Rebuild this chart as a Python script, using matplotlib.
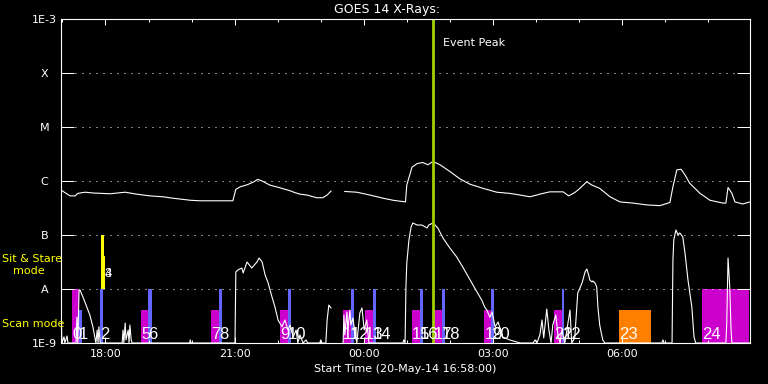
import matplotlib
matplotlib.use("Agg")
import matplotlib.pyplot as plt
from matplotlib.ticker import FixedLocator, NullLocator
import numpy as np

# ---------------- data (time in hours since 20-May-14 16:58:00) ----------------
start_clock = "16:58"

long_t = [0.00, 0.21, 0.33, 0.39, 0.56, 0.74, 1.14, 1.49, 1.76, 2.07, 2.37, 2.60,
          3.00, 3.23, 3.53, 3.99, 4.06, 4.16, 4.32, 4.46, 4.57, 4.67, 4.85, 5.08,
          5.32, 5.43, 5.55, 5.71, 5.94, 6.08, 6.18, 6.27, 6.45, 6.59, 6.87, 7.17,
          7.48, 7.71, 8.00, 8.03, 8.15, 8.27, 8.40, 8.52, 8.64, 8.80, 9.03, 9.26,
          9.50, 9.80, 10.12, 10.42, 10.66, 10.89, 11.12, 11.35, 11.66, 11.79, 11.93,
          12.05, 12.21, 12.33, 12.51, 12.75, 12.98, 13.28, 13.61, 13.91, 14.14,
          14.21, 14.30, 14.40, 14.49, 14.60, 14.84, 15.07, 15.37, 15.44, 15.49,
          15.58, 15.65, 15.83, 15.95, 16.00]
long_flux = [6.8e-7, 5.3e-7, 5.3e-7, 5.9e-7, 6.2e-7, 6.0e-7, 5.8e-7, 6.2e-7, 5.7e-7,
             5.3e-7, 5.1e-7, 4.8e-7, 4.4e-7, 4.3e-7, 4.3e-7, 4.3e-7, 7.0e-7, 7.8e-7,
             8.5e-7, 9.5e-7, 1.07e-6, 1.0e-6, 8.4e-7, 7.5e-7, 6.6e-7, 6.1e-7, 5.7e-7,
             5.5e-7, 4.9e-7, 4.9e-7, 5.5e-7, 6.5e-7, np.nan, 6.4e-7, 6.2e-7, 5.5e-7,
             4.8e-7, 4.4e-7, 4.1e-7, 8.4e-7, 1.8e-6, 2.1e-6, 2.2e-6, 2.0e-6, 2.3e-6,
             2.0e-6, 1.5e-6, 1.1e-6, 8.7e-7, 7.3e-7, 6.2e-7, 5.9e-7, 5.5e-7, 5.1e-7,
             5.7e-7, 6.3e-7, 6.3e-7, 5.3e-7, 6.1e-7, 7.3e-7, 9.7e-7, 8.4e-7, 7.3e-7,
             5.1e-7, 4.1e-7, 3.9e-7, 3.6e-7, 3.5e-7, 4.0e-7, 7.8e-7, 1.6e-6, 1.65e-6,
             1.3e-6, 9.1e-7, 5.9e-7, 4.4e-7, 3.9e-7, 3.9e-7, 7.6e-7, 5.9e-7, 4.1e-7,
             3.75e-7, 4.0e-7, 4.1e-7]

short_t = [0.00, 0.02, 0.07, 0.09, 0.14, 0.16, 0.35, 0.37, 0.39, 0.42, 0.44, 0.51,
           0.60, 0.67, 0.74, 0.79, 0.81, 0.84, 0.86, 0.88, 0.91, 1.42, 1.44, 1.46,
           1.49, 1.51, 1.56, 1.58, 1.60, 1.63, 1.65, 2.99, 3.00, 3.02, 4.04, 4.06,
           4.11, 4.20, 4.23, 4.32, 4.43, 4.55, 4.60, 4.67, 4.74, 4.81, 4.90, 4.97,
           5.04, 5.13, 5.20, 5.27, 5.32, 5.39, 5.46, 5.50, 5.55, 5.62, 5.69, 5.73,
           6.01, 6.03, 6.04, 6.15, 6.18, 6.22, 6.27, 6.45, 6.55, 6.57, 6.59, 6.64,
           6.66, 6.71, 6.73, 6.78, 6.83, 6.87, 6.94, 6.99, 7.04, 7.10, 7.15, 7.94,
           7.96, 7.99, 8.01, 8.03, 8.08, 8.13, 8.17, 8.27, 8.38, 8.50, 8.54, 8.64,
           8.75, 8.87, 9.03, 9.19, 9.33, 9.50, 9.66, 9.77, 9.84, 9.89, 9.96, 10.01,
           10.08, 10.15, 10.26, 10.42, 10.59, 10.66, 10.96, 11.01, 11.05, 11.12,
           11.17, 11.21, 11.28, 11.33, 11.38, 11.42, 11.49, 11.54, 11.59, 11.63,
           11.70, 11.82, 11.86, 11.93, 12.00, 12.10, 12.17, 12.21, 12.26, 12.28,
           12.33, 12.35, 12.40, 12.44, 12.47, 12.51, 12.58, 12.63, 13.95, 13.98,
           14.00, 14.19, 14.21, 14.23, 14.28, 14.33, 14.37, 14.44, 14.49, 14.56,
           14.65, 14.70, 14.74, 15.44, 15.46, 15.49, 15.53, 15.56, 15.58, 16.00]
short_flux = [6.3e-9, 1e-9, 1.3e-9, 1e-9, 1.35e-9, 1e-9, 1e-9, 3.0e-9, 1e-9, 9.6e-9,
              9.6e-9, 7.1e-9, 4.6e-9, 3.3e-9, 2.0e-9, 1.24e-9, 1e-9, 1.74e-9, 1e-9,
              2.0e-9, 1e-9, 1e-9, 1.74e-9, 1e-9, 2.35e-9, 1.14e-9, 1.74e-9, 1e-9,
              2.15e-9, 1.14e-9, 1e-9, 1e-9, 1.14e-9, 1e-9, 1e-9, 2.07e-8, 2.25e-8,
              2.45e-8, 1.98e-8, 3.16e-8, 2.45e-8, 3.16e-8, 3.75e-8, 3.16e-8, 1.82e-8,
              1.29e-8, 7.1e-9, 4.6e-9, 2.67e-9, 2.0e-9, 2.67e-9, 1.74e-9, 2.15e-9,
              1.29e-9, 1.74e-9, 1e-9, 1.41e-9, 1e-9, 1.14e-9, 1e-9, 1e-9, 1.14e-9,
              1e-9, 1e-9, 2.67e-9, 5.05e-9, 4.45e-9, np.nan, 1e-9, 3.3e-9, 1.41e-9,
              3.75e-9, 1.74e-9, 4.08e-9, 2.15e-9, 2.9e-9, 1.41e-9, 1e-9, 3.6e-9,
              4.45e-9, 1.74e-9, 2.67e-9, 1e-9, 1e-9, 1.14e-9, 1e-9, 1.09e-8, 3.03e-8,
              8.07e-8, 1.41e-7, 1.67e-7, 1.53e-7, 1.53e-7, 1.35e-7, 1.53e-7, 1.67e-7,
              1.35e-7, 8.8e-8, 5.74e-8, 3.91e-8, 2.55e-8, 1.47e-8, 8.8e-9, 6.25e-9,
              4.6e-9, 4.08e-9, 3.0e-9, 3.75e-9, 2.0e-9, 2.45e-9, 1.29e-9, 1.14e-9,
              1.04e-9, 1e-9, 1e-9, 1.14e-9, 1e-9, 1.41e-9, 2.67e-9, 1.24e-9, 4.26e-9,
              1.74e-9, 1e-9, 2.15e-9, 3.3e-9, 1.41e-9, 1e-9, 1.74e-9, 1e-9, 4.08e-9,
              1e-9, 1.24e-9, 8.43e-9, 1.29e-8, 2.07e-8, 2.35e-8, 1.74e-8, 1.47e-8,
              1.35e-8, 1.41e-8, 1.29e-8, 1.09e-8, 4.45e-9, 2.15e-9, 1.14e-9, 1e-9,
              1e-9, 1.14e-9, 1e-9, 1e-9, 3.44e-8, 8.07e-8, 1.24e-7, 1.0e-7, 1.09e-7,
              9.2e-8, 4.64e-8, 1.47e-8, 4.6e-9, 1.29e-9, 1e-9, 1e-9, 2.35e-9, 3.75e-8,
              1.09e-8, 1.74e-9, 1e-9, 1e-9]

# scan-mode rasters: start, end (hours), top flux, kind, label
scan_start = [0.26, 0.42, 0.91, 1.86, 2.03, 3.48, 3.67, 5.08, 5.27, 6.55, 6.73, 7.06,
              7.24, 8.15, 8.34, 8.66, 8.85, 9.83, 9.99, 11.45, 11.63, 12.96, 14.89]
scan_end = [0.42, 0.49, 0.97, 2.03, 2.11, 3.67, 3.74, 5.27, 5.33, 6.73, 6.80, 7.24,
            7.31, 8.34, 8.40, 8.85, 8.91, 9.99, 10.05, 11.63, 11.69, 13.69, 15.98]
scan_top = [1e-8, 4e-9, 1e-8, 4e-9, 1e-8, 4e-9, 1e-8, 4e-9, 1e-8, 4e-9, 1e-8, 4e-9,
            1e-8, 4e-9, 1e-8, 4e-9, 1e-8, 4e-9, 1e-8, 4e-9, 1e-8, 4e-9, 1e-8]
scan_kind = ["m", "b", "b", "m", "b", "m", "b", "m", "b", "m", "b", "m", "b", "m", "b",
             "m", "b", "m", "b", "m", "b", "o", "m"]
scan_label = ["0", "1", "2", "5", "6", "7", "8", "9", "10", "11", "12", "13", "14",
              "15", "16", "17", "18", "19", "20", "21", "22", "23", "24"]

# sit & stare observations
ss_start = [0.94, 1.00]
ss_end = [1.00, 1.02]
ss_top = [1e-7, 4e-8]
ss_label = ["3", "4"]

event_peak = 8.64
tick_clock = ["18:00", "21:00", "00:00", "03:00", "06:00"]
level_vals = [1e-3, 1e-4, 1e-5, 1e-6, 1e-7, 1e-8, 1e-9]
level_labels = ["1E-3", "X", "M", "C", "B", "A", "1E-9"]

# ---------------- styling ----------------
kind_color = {"m": "#CC00CC", "b": "#6464FF", "o": "#FF8000"}
W, H, DPI = 768, 384, 100
plt.rcParams["font.family"] = ["DejaVu Sans"]

fig = plt.figure(figsize=(W / DPI, H / DPI), dpi=DPI, facecolor="black")
ax = fig.add_axes([61 / W, 1 - 343 / H, (750 - 61) / W, (343 - 19) / H], facecolor="black")
ax.set_yscale("log")
floor = level_vals[-1]

# bars
for s, e, t, k in zip(scan_start, scan_end, scan_top, scan_kind):
    ax.bar(s, t - floor, width=e - s, bottom=floor, align="edge", color=kind_color[k],
           linewidth=0, zorder=1)
for s, e, t in zip(ss_start, ss_end, ss_top):
    ax.bar(s, t - 1e-8, width=e - s, bottom=1e-8, align="edge", color="#FFFF00",
           linewidth=0, zorder=1)

# curves
ax.plot(long_t, long_flux, color="white", lw=0.8, zorder=3)
ax.plot(short_t, short_flux, color="white", lw=0.8, zorder=3)

# event peak
ax.axvline(event_peak, color="#A0D000", lw=2.0, zorder=4)

# labels for bars
for s, lab in zip(scan_start, scan_label):
    ax.text(s, 1.2e-9, lab, color="white", fontsize=12, family=["Liberation Sans", "DejaVu Sans"],
            ha="left", va="baseline", zorder=5)
for lab in ss_label:
    ax.text(ss_end[0] + 0.02, 1.67e-8, lab, color="white", fontsize=9,
            family=["Liberation Sans", "DejaVu Sans"], ha="left", va="baseline", zorder=5)

ax.set_xlim(0, 16)
ax.set_ylim(level_vals[-1], level_vals[0])

# time ticks
sh, sm = map(int, start_clock.split(":"))
def clock_to_hours(c):
    h, m = map(int, c.split(":"))
    d = (h * 60 + m) - (sh * 60 + sm)
    if d < 0:
        d += 24 * 60
    return d / 60.0

major = [clock_to_hours(c) for c in tick_clock]
minor = [clock_to_hours("%02d:00" % ((sh + 1 + i) % 24)) for i in range(16)]
ax.xaxis.set_major_locator(FixedLocator(major))
ax.set_xticklabels(tick_clock)
ax.xaxis.set_minor_locator(FixedLocator(minor))
ax.tick_params(axis="x", which="major", direction="in", length=4.3, width=0.72,
               colors="white", top=True, bottom=True, labelsize=8, pad=4.3)
ax.tick_params(axis="x", which="minor", direction="in", length=2.2, width=0.72,
               colors="white", top=True, bottom=True)

ax.yaxis.set_major_locator(FixedLocator(level_vals))
ax.yaxis.set_minor_locator(NullLocator())
ax.set_yticklabels(level_labels)
ax.tick_params(axis="y", which="major", direction="in", length=9.4, width=0.72,
               colors="white", left=True, right=True, labelsize=8, pad=11.9)
for lbl in ax.get_yticklabels():
    lbl.set_ha("center")

ax.grid(axis="y", which="major", color="white", linestyle=(0, (1, 6)), linewidth=0.72)
for sp in ax.spines.values():
    sp.set_color("white")
    sp.set_linewidth(0.8)
    sp.set_zorder(6)

# texts
fig.text(387 / W, 1 - 9.5 / H, "GOES 14 X-Rays:", color="white", fontsize=9,
         ha="center", va="center")
fig.text(405 / W, 1 - 368.5 / H, "Start Time (20-May-14 16:58:00)", color="white",
         fontsize=8, ha="center", va="center")
fig.text(443 / W, 1 - 43 / H, "Event Peak", color="white", fontsize=8, ha="left", va="center")
fig.text(2 / W, 1 - 259 / H, "Sit & Stare", color="#FFFF00", fontsize=8, ha="left", va="center")
fig.text(13 / W, 1 - 271 / H, "mode", color="#FFFF00", fontsize=8, ha="left", va="center")
fig.text(2 / W, 1 - 324 / H, "Scan mode", color="#FFFF00", fontsize=8, ha="left", va="center")

fig.savefig("out.png", dpi=DPI, facecolor="black")
